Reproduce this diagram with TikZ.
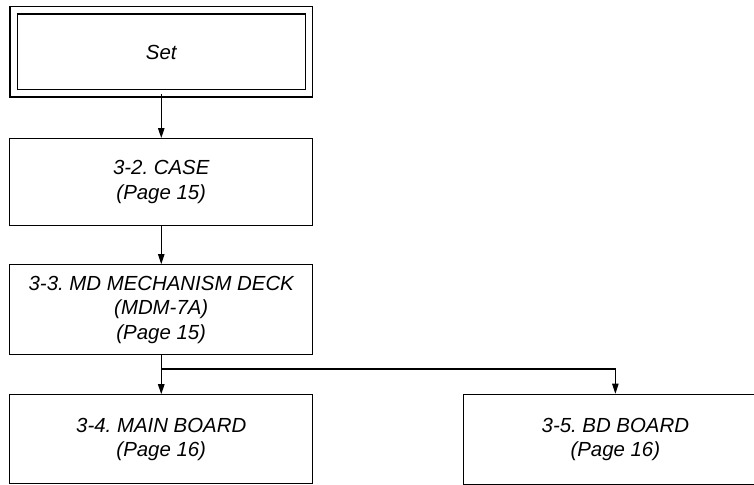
\documentclass[tikz,border=0pt]{standalone}
\usepackage{fontspec}
\setmainfont{Liberation Sans}
\usepackage{tikz}
\usetikzlibrary{arrows.meta,positioning}

\begin{document}
\begin{tikzpicture}[
    x=0.5pt, y=-0.5pt,
    font=\fontsize{10.2}{12.3}\selectfont\itshape\frenchspacing,
    stepbox/.style={draw, line width=0.55pt, align=center, minimum width=151.5pt, inner sep=0pt},
    setbox/.style={draw, line width=0.55pt, double, double distance=3pt, align=center, minimum width=147.75pt, minimum height=41.5pt},
    arrow/.style={-{Triangle[length=5pt, width=3.2pt]}, line width=0.55pt}
  ]
  \useasboundingbox (0,0) rectangle (754,485);

  \node[setbox] (set) at (161.25,52) {Set};
  \node[stepbox, minimum height=43.5pt, below=22pt of set] (case) {3-2. CASE\\(Page 15)};
  \node[stepbox, minimum height=45pt, below=19pt of case] (deck) {3-3. MD MECHANISM DECK\\(MDM-7A)\\(Page 15)};
  \node[stepbox, minimum height=44.5pt, below=19.5pt of deck] (main) {3-4. MAIN BOARD\\(Page 16)};
  \node[stepbox, minimum height=45pt, right=75pt of main] (bd) {3-5. BD BOARD\\(Page 16)};
  \coordinate (split) at (161.5,369);

  \draw[arrow] (set) -- (case);
  \draw[arrow] (case) -- (deck);
  \draw[arrow] (deck) -- (main);
  \draw[arrow] (split) -| (bd.north);
\end{tikzpicture}
\end{document}
